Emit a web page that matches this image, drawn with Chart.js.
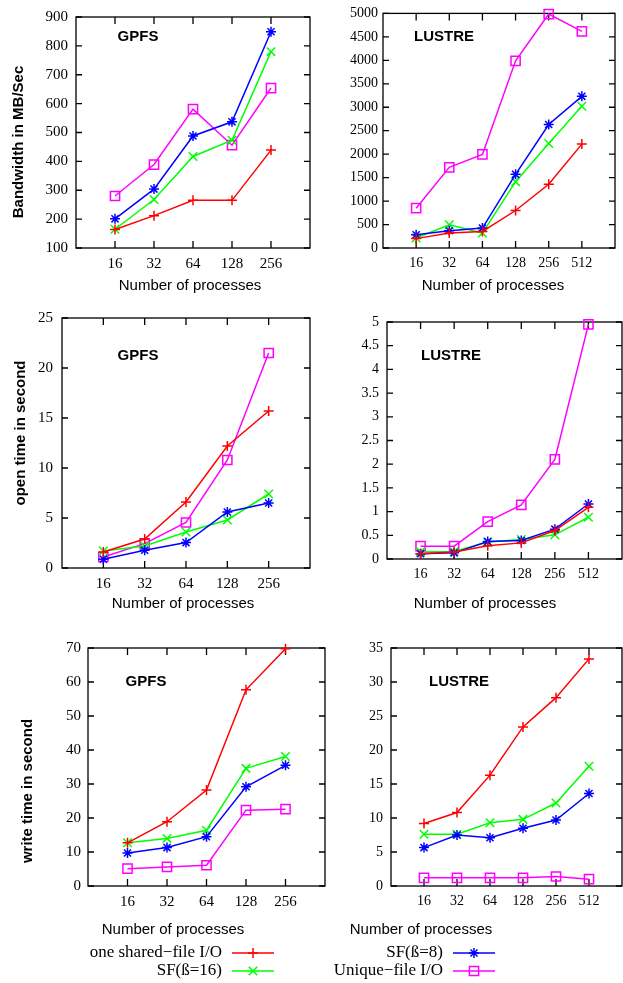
<!DOCTYPE html>
<html>
<head>
<meta charset="utf-8">
<script src="https://cdn.jsdelivr.net/npm/chart.js@4"></script>
<style>
  html, body { margin: 0; padding: 0; background: #fff; overflow: hidden; }
  body { position: relative; width: 623px; height: 983px; }
  canvas { position: absolute; }
</style>
</head>
<body>
<canvas id="c1"></canvas>
<canvas id="c2"></canvas>
<canvas id="c3"></canvas>
<canvas id="c4"></canvas>
<canvas id="c5"></canvas>
<canvas id="c6"></canvas>
<script>
// process counts (x categories)
const procsGpfs = ['16', '32', '64', '128', '256']
const procsLustre = ['16', '32', '64', '128', '256', '512']
const seriesNames = ['one shared\u2212file I/O', 'SF(\u00df=8)', 'SF(\u00df=16)', 'Unique\u2212file I/O']

// bandwidth (MB/Sec)
const bwGpfsShared = [164, 212, 265, 265, 439]
const bwGpfsSf8 = [201, 304, 488, 537, 849]
const bwGpfsSf16 = [165, 268, 417, 473, 780]
const bwGpfsUnique = [280, 389, 581, 456, 654]

const bwLustreShared = [200, 318, 354, 799, 1358, 2214]
const bwLustreSf8 = [283, 368, 424, 1570, 2631, 3232]
const bwLustreSf16 = [212, 495, 318, 1414, 2228, 3020]
const bwLustreUnique = [849, 1719, 1994, 3989, 4986, 4618]

// open time (second)
const openGpfsShared = [1.6, 2.9, 6.6, 12.2, 15.7]
const openGpfsSf8 = [0.87, 1.77, 2.54, 5.6, 6.5]
const openGpfsSf16 = [1.7, 2.2, 3.6, 4.8, 7.4]
const openGpfsUnique = [1.1, 2.44, 4.55, 10.8, 21.5]

const openLustreShared = [0.11, 0.15, 0.28, 0.34, 0.6, 1.09]
const openLustreSf8 = [0.11, 0.13, 0.37, 0.39, 0.63, 1.16]
const openLustreSf16 = [0.15, 0.16, 0.36, 0.41, 0.51, 0.88]
const openLustreUnique = [0.27, 0.27, 0.79, 1.14, 2.1, 4.95]

// write time (second)
const writeGpfsShared = [12.7, 18.9, 28.2, 57.7, 69.8]
const writeGpfsSf8 = [9.7, 11.3, 14.5, 29.2, 35.5]
const writeGpfsSf16 = [12.7, 14.0, 16.4, 34.6, 38.1]
const writeGpfsUnique = [5.1, 5.6, 6.1, 22.3, 22.6]

const writeLustreShared = [9.2, 10.8, 16.3, 23.4, 27.7, 33.4]
const writeLustreSf8 = [5.65, 7.5, 7.1, 8.5, 9.7, 13.6]
const writeLustreSf16 = [7.6, 7.6, 9.3, 9.8, 12.2, 17.6]
const writeLustreUnique = [1.2, 1.2, 1.2, 1.2, 1.4, 1.0]

const seriesStyles = [
    { color: '#ff0000', pointStyle: 'cross', radius: 5 },
    { color: '#0000ff', pointStyle: 'star', radius: 5 },
    { color: '#00ff00', pointStyle: 'crossRot', radius: 6 },
    { color: '#ff00ff', pointStyle: 'rect', radius: 6.5 },
]

// panel layout, page coordinates: canvas rect, plot box [L, T, R, B]
const panels = [
    { id: 'c1', rect: [0, 0, 318, 300], box: [76, 11, 314, 248], labels: procsGpfs,
      series: [bwGpfsShared, bwGpfsSf8, bwGpfsSf16, bwGpfsUnique],
      yMin: 100, yMax: 900, yStep: 100, tickSize: 15, yPad: 8,
      fs: 'GPFS', fsAt: [138, 37], xTitleAt: [190, 286], yTitle: 'Bandwidth in MB/Sec', yTitleAt: [19, 142] },
    { id: 'c2', rect: [330, 0, 293, 300], box: [383, 13, 616, 248], labels: procsLustre,
      series: [bwLustreShared, bwLustreSf8, bwLustreSf16, bwLustreUnique],
      yMin: 0, yMax: 5000, yStep: 500, tickSize: 14, yPad: 5,
      fs: 'LUSTRE', fsAt: [444, 37], xTitleAt: [493, 286] },
    { id: 'c3', rect: [0, 300, 318, 320], box: [62, 318, 312, 568], labels: procsGpfs,
      series: [openGpfsShared, openGpfsSf8, openGpfsSf16, openGpfsUnique],
      yMin: 0, yMax: 25, yStep: 5, tickSize: 15, yPad: 9,
      fs: 'GPFS', fsAt: [138, 356], xTitleAt: [183, 604], yTitle: 'open time in second', yTitleAt: [21, 433] },
    { id: 'c4', rect: [330, 300, 300, 320], box: [387, 322, 624, 559], labels: procsLustre,
      series: [openLustreShared, openLustreSf8, openLustreSf16, openLustreUnique],
      yMin: 0, yMax: 5, yStep: 0.5, tickSize: 14, yPad: 8,
      fs: 'LUSTRE', fsAt: [451, 356], xTitleAt: [485, 604] },
    { id: 'c5', rect: [0, 620, 623, 363], box: [88, 648, 325, 886], labels: procsGpfs,
      series: [writeGpfsShared, writeGpfsSf8, writeGpfsSf16, writeGpfsUnique],
      yMin: 0, yMax: 70, yStep: 10, tickSize: 15, yPad: 7,
      fs: 'GPFS', fsAt: [146, 682], xTitleAt: [173, 930], yTitle: 'write time in second', yTitleAt: [28, 791],
      legend: true },
    { id: 'c6', rect: [340, 620, 290, 320], box: [391, 648, 628, 886], labels: procsLustre,
      series: [writeLustreShared, writeLustreSf8, writeLustreSf16, writeLustreUnique],
      yMin: 0, yMax: 35, yStep: 5, tickSize: 14, yPad: 8,
      fs: 'LUSTRE', fsAt: [459, 682], xTitleAt: [421, 930] },
]

// legend placement (page coords): text right edge per column, row centres
const legendCols = [222, 443]
const legendRows = [953, 971]

function drawMarker(ctx, style, x, y) {
    if (Chart.helpers && Chart.helpers.drawPoint) {
        ctx.fillStyle = 'rgba(0,0,0,0)'
        ctx.strokeStyle = style.color
        ctx.lineWidth = 1.5
        Chart.helpers.drawPoint(ctx, { pointStyle: style.pointStyle, radius: style.radius, rotation: 0, borderWidth: 1.5 }, x, y)
    }
}

const panelDecor = {
    id: 'panelDecor',
    beforeDatasetsDraw(chart, args, o) {
        const ctx = chart.ctx
        const { left, top, right, bottom } = chart.chartArea
        const xs = chart.scales.x
        const ys = chart.scales.y
        ctx.save()
        ctx.strokeStyle = '#000'
        ctx.lineWidth = 1.3
        ctx.strokeRect(left, top, right - left, bottom - top)
        ctx.beginPath()
        xs.ticks.forEach(t => {
            if (!o.labels[Math.round(t.value) - 1]) return
            const px = xs.getPixelForValue(t.value)
            ctx.moveTo(px, bottom); ctx.lineTo(px, bottom - 7)
            ctx.moveTo(px, top); ctx.lineTo(px, top + 7)
        })
        ys.ticks.forEach(t => {
            const py = ys.getPixelForValue(t.value)
            ctx.moveTo(left, py); ctx.lineTo(left + 6, py)
            ctx.moveTo(right, py); ctx.lineTo(right - 6, py)
        })
        ctx.stroke()
        ctx.restore()
    },
    afterDraw(chart, args, o) {
        const ctx = chart.ctx
        const ox = o.rect[0], oy = o.rect[1]
        ctx.save()
        ctx.fillStyle = '#000'
        ctx.textAlign = 'center'
        ctx.textBaseline = 'middle'
        ctx.font = 'bold 15px "Liberation Sans"'
        ctx.fillText(o.fs, o.fsAt[0] - ox, o.fsAt[1] - oy)
        ctx.font = '15px "Liberation Sans"'
        ctx.fillText('Number of processes', o.xTitleAt[0] - ox, o.xTitleAt[1] - oy)
        if (o.yTitle) {
            ctx.save()
            ctx.translate(o.yTitleAt[0] - ox, o.yTitleAt[1] - oy)
            ctx.rotate(-Math.PI / 2)
            ctx.font = 'bold 15px "Liberation Sans"'
            ctx.fillText(o.yTitle, 0, 0)
            ctx.restore()
        }
        if (o.legend) {
            chart.data.datasets.forEach((ds, i) => {
                const col = i % 2, row = Math.floor(i / 2)
                const tx = legendCols[col] - ox
                const ty = legendRows[row] - oy
                ctx.fillStyle = '#000'
                ctx.font = '17px "Liberation Serif"'
                ctx.textAlign = 'right'
                ctx.fillText(ds.label, tx, ty)
                ctx.strokeStyle = ds.borderColor
                ctx.lineWidth = 1.5
                ctx.beginPath()
                ctx.moveTo(tx + 10, ty); ctx.lineTo(tx + 52, ty)
                ctx.stroke()
                drawMarker(ctx, seriesStyles[i], tx + 31, ty)
            })
        }
        ctx.restore()
    }
}

panels.forEach(p => {
    const canvas = document.getElementById(p.id)
    const [cx, cy, cw, ch] = p.rect
    const [L, T, R, B] = p.box
    canvas.width = cw
    canvas.height = ch
    canvas.style.left = cx + 'px'
    canvas.style.top = cy + 'px'
    canvas.style.width = cw + 'px'
    canvas.style.height = ch + 'px'
    const n = p.labels.length
    new Chart(canvas, {
        type: 'line',
        data: {
            datasets: p.series.map((vals, i) => ({
                label: seriesNames[i],
                data: vals.map((v, k) => ({ x: k + 1, y: v })),
                borderColor: seriesStyles[i].color,
                backgroundColor: 'rgba(0,0,0,0)',
                pointBackgroundColor: 'rgba(0,0,0,0)',
                pointBorderColor: seriesStyles[i].color,
                pointStyle: seriesStyles[i].pointStyle,
                pointRadius: seriesStyles[i].radius,
                pointBorderWidth: 1.5,
                borderWidth: 1.5,
                tension: 0,
                clip: false
            }))
        },
        options: {
            responsive: false,
            animation: false,
            devicePixelRatio: 1,
            layout: { padding: { left: 0, top: T - cy, right: cx + cw - R, bottom: 0 } },
            plugins: {
                legend: { display: false },
                tooltip: { enabled: false },
                panelDecor: p
            },
            scales: {
                x: {
                    type: 'linear',
                    min: 0,
                    max: n + 1,
                    afterFit: s => { s.height = cy + ch - B },
                    grid: { display: false, drawTicks: false },
                    border: { display: false },
                    ticks: {
                        stepSize: 1,
                        autoSkip: false,
                        maxRotation: 0,
                        padding: 7,
                        color: '#000',
                        font: { family: 'Liberation Serif', size: p.tickSize },
                        callback: v => p.labels[Math.round(v) - 1] || ''
                    }
                },
                y: {
                    min: p.yMin,
                    max: p.yMax,
                    afterFit: s => { s.width = L - cx },
                    grid: { display: false, drawTicks: false },
                    border: { display: false },
                    ticks: {
                        stepSize: p.yStep,
                        padding: p.yPad,
                        color: '#000',
                        font: { family: 'Liberation Serif', size: p.tickSize },
                        callback: v => String(v)
                    }
                }
            }
        },
        plugins: [panelDecor]
    })
})
</script>
</body>
</html>
